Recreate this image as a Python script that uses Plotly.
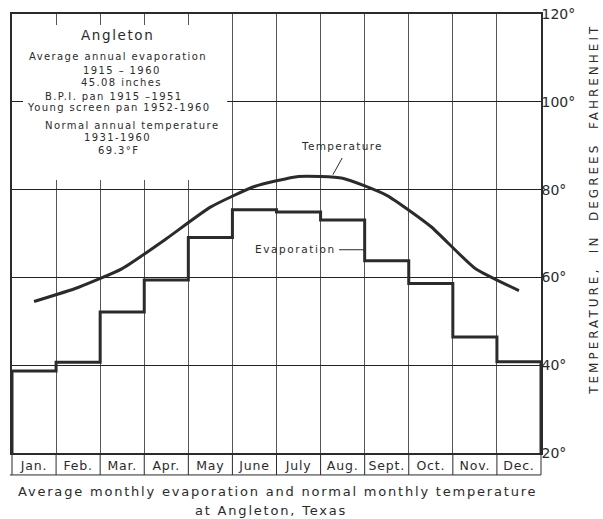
import plotly.graph_objects as go

# ---- data ----
months = ["Jan.", "Feb.", "Mar.", "Apr.", "May", "June", "July", "Aug.", "Sept.", "Oct.", "Nov.", "Dec."]
# normal monthly temperature, deg F (1931-1960)
temperature = [54.5, 57.7, 62.0, 68.8, 76.0, 80.7, 83.0, 82.6, 78.7, 71.6, 62.1, 57.0]
# average monthly evaporation, inches (1915-1960)
evaporation_in = [1.87, 2.07, 3.21, 3.94, 4.91, 5.54, 5.49, 5.31, 4.38, 3.86, 2.64, 2.08]
temp_ticks = [20, 40, 60, 80, 100, 120]

# evaporation is drawn on the temperature grid: 0 in at 20 deg, 1 in per 10 deg
EVAP_BASE = 20
EVAP_SCALE = 10

box_lines = [
    "Angleton",
    "Average annual evaporation",
    "1915 \u2013 1960",
    "45.08 inches",
    "B.P.I. pan 1915 \u20131951",
    "Young screen pan 1952-1960",
    "Normal annual temperature",
    "1931-1960",
    "69.3\u00b0F",
]
caption = ["Average monthly evaporation and normal monthly temperature", "at Angleton, Texas"]

INK = "#2b2b2b"
FONT = "DejaVu Sans"
n = len(months)


def spaced(text, px):
    return f'<span style="letter-spacing:{px}px">{text}</span>'


evap_y = [EVAP_BASE + EVAP_SCALE * v for v in evaporation_in]
step_x = [0] + list(range(n)) + [n, n]
step_y = [EVAP_BASE] + evap_y + [evap_y[-1], EVAP_BASE]

fig = go.Figure()
fig.add_trace(go.Scatter(
    x=step_x, y=step_y, mode="lines", line=dict(shape="hv", color=INK, width=3),
    hoverinfo="skip", showlegend=False,
))
fig.add_trace(go.Scatter(
    x=[i + 0.5 for i in range(n)], y=temperature, mode="lines",
    line=dict(shape="spline", smoothing=0.5, color=INK, width=3),
    hoverinfo="skip", showlegend=False,
))

# white panel for the station notes (grid stubs stay visible at its edges)
fig.add_shape(type="rect", xref="x", yref="y", x0=0.25, x1=4.88, y0=82.2, y1=117.5,
              fillcolor="white", line=dict(width=0), layer="above")

# month label boxes under the plot
for i in range(n + 1):
    fig.add_shape(type="line", xref="x domain", yref="paper", x0=i / n, x1=i / n, y0=-0.05, y1=0,
                  line=dict(color=INK, width=1))
fig.add_shape(type="line", xref="x domain", yref="paper", x0=-0.004, x1=1, y0=-0.05, y1=-0.05,
              line=dict(color=INK, width=1))

# station notes
box_x = [2.40, 2.40, 2.50, 2.48, 2.31, 2.42, 2.72, 2.40, 2.42]
box_y = [115.2, 110.4, 107.2, 104.5, 101.3, 98.6, 94.7, 91.8, 88.8]
for i, (txt, bx, by) in enumerate(zip(box_lines, box_x, box_y)):
    big = i == 0
    fig.add_annotation(x=bx, y=by, xref="x", yref="y", text=spaced(txt, 1.6 if big else 1.4),
                       showarrow=False, font=dict(family=FONT, size=13.5 if big else 10, color=INK))

# curve labels with leader lines
fig.add_annotation(x=7.49, y=89.9, text=spaced("Temperature", 1.3), showarrow=False,
                   font=dict(family=FONT, size=10.5, color=INK))
fig.add_shape(type="line", x0=7.49, y0=87.2, x1=7.28, y1=83.4, line=dict(color=INK, width=1))
fig.add_annotation(x=6.42, y=66.4, text=spaced("Evaporation", 1.6), showarrow=False,
                   font=dict(family=FONT, size=10.5, color=INK))
fig.add_shape(type="line", x0=7.42, y0=66.3, x1=8.0, y1=66.3, line=dict(color=INK, width=1))

# right axis title
fig.add_annotation(x=1.100, y=0.556, xref="paper", yref="paper", xanchor="center", yanchor="middle",
                   textangle=-90,
                   text=spaced("TEMPERATURE,&nbsp; IN&nbsp; DEGREES&nbsp; FAHRENHEIT", 3),
                   showarrow=False, font=dict(family=FONT, size=12, color=INK))

# caption
fig.add_annotation(x=0.501, y=-0.087, xref="paper", yref="paper", xanchor="center", yanchor="middle",
                   text=spaced(caption[0], 1.8),
                   showarrow=False, font=dict(family=FONT, size=13, color=INK))
fig.add_annotation(x=0.49, y=-0.132, xref="paper", yref="paper", xanchor="center", yanchor="middle",
                   text=spaced(caption[1], 1.8),
                   showarrow=False, font=dict(family=FONT, size=13, color=INK))

fig.update_layout(
    width=603, height=519,
    margin=dict(l=12, r=62, t=14, b=66, autoexpand=False),
    paper_bgcolor="white", plot_bgcolor="white",
    font=dict(family=FONT, color=INK),
    xaxis=dict(
        range=[0, n], tickvals=[i + 0.5 for i in range(n)], ticktext=[spaced(m, 0.8) for m in months],
        showgrid=False, ticks="", tickfont=dict(size=12.5), automargin=False,
        minor=dict(tickvals=list(range(n + 1)), showgrid=True, gridcolor="#555", gridwidth=1, ticks=""),
        showline=True, linecolor=INK, linewidth=1.5, mirror=True, zeroline=False,
    ),
    yaxis=dict(
        range=[20, 120], side="right", tickvals=temp_ticks,
        ticktext=[f"{v}\u00b0" for v in temp_ticks], ticklabelstandoff=-4, automargin=False,
        showgrid=True, gridcolor="#222", gridwidth=1, ticks="", tickfont=dict(size=14),
        showline=True, linecolor=INK, linewidth=1.5, mirror=True, zeroline=False,
    ),
)

# the page body has a default 8px margin; drop it so the figure sits at the window corner
fig.write_html("out.html", config={"displayModeBar": False},
               post_script="document.body.style.margin='0';")
